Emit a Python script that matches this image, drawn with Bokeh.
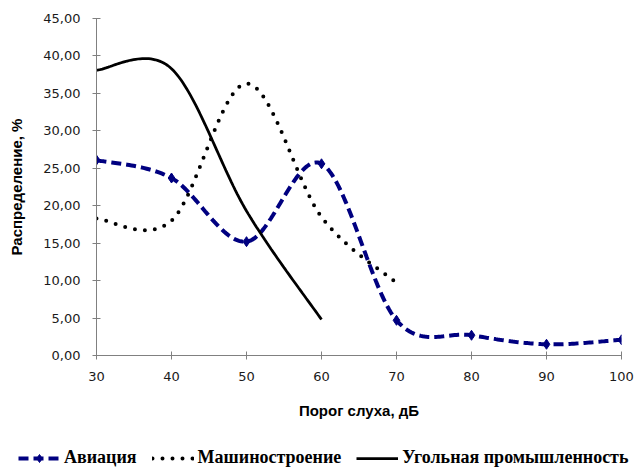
import numpy as np
from bokeh.plotting import figure
from bokeh.layouts import column
from bokeh.models import Legend, LegendItem, FixedTicker, Range1d
from bokeh.embed import file_html
from bokeh.resources import INLINE

# ---- data ----
x_aviation = [30, 40, 50, 60, 70, 80, 90, 100]
y_aviation = [26.1, 23.7, 15.2, 25.6, 4.7, 2.7, 1.5, 2.1]
x_machine = [30, 40, 50, 60, 70]
y_machine = [18.3, 18.0, 36.3, 18.5, 9.7]
x_coal = [30, 40, 50, 60]
y_coal = [38.1, 38.3, 19.3, 4.8]

x_ticks = [30, 40, 50, 60, 70, 80, 90, 100]
x_tick_labels = ["30", "40", "50", "60", "70", "80", "90", "100"]
y_ticks = [0, 5, 10, 15, 20, 25, 30, 35, 40, 45]
y_tick_labels = ["0,00", "5,00", "10,00", "15,00", "20,00", "25,00",
                 "30,00", "35,00", "40,00", "45,00"]
series_names = ["Авиация", "Машиностроение", "Угольная промышленность"]
x_title = "Порог слуха, дБ"
y_title = "Распределение, %"


def smooth(xs, ys, n=40):
    """Excel-like smoothed line (Catmull-Rom Bezier through the points)."""
    P = np.column_stack([xs, ys]).astype(float)
    m = len(P)
    t = np.linspace(0, 1, n + 1)[1:][:, None]
    pts = [P[0]]
    for i in range(m - 1):
        p0 = P[max(i - 1, 0)]
        p1 = P[i]
        p2 = P[i + 1]
        p3 = P[min(i + 2, m - 1)]
        c1 = p1 + (p2 - p0) / 6.0
        c2 = p2 - (p3 - p1) / 6.0
        b = ((1 - t) ** 3) * p1 + 3 * ((1 - t) ** 2) * t * c1 + 3 * (1 - t) * t ** 2 * c2 + t ** 3 * p2
        pts.extend(b)
    pts = np.array(pts)
    return pts[:, 0], pts[:, 1]


NAVY = "#000080"
AV_STYLE = dict(line_color=NAVY, line_width=4, line_dash="10 5")
AV_MARK = dict(marker="diamond", size=10, fill_color=NAVY, line_color=NAVY)
MA_STYLE = dict(line_color="black", line_width=4, line_dash="0 10", line_cap="round")
CO_STYLE = dict(line_color="black", line_width=2.75)

p = figure(width=636, height=444, x_range=Range1d(30, 100), y_range=Range1d(0, 45),
           output_backend="svg", toolbar_location=None,
           min_border_left=96, min_border_right=15, min_border_top=18, min_border_bottom=89)
p.outline_line_color = None
p.xgrid.visible = False
p.ygrid.visible = False

ax, ay = smooth(x_aviation, y_aviation)
mx, my = smooth(x_machine, y_machine)
cx, cy = smooth(x_coal, y_coal)

p.line(ax, ay, **AV_STYLE)
p.scatter(x_aviation, y_aviation, **AV_MARK)
p.line(mx, my, **MA_STYLE)
p.line(cx, cy, **CO_STYLE)

for a in (p.xaxis[0], p.yaxis[0]):
    a.axis_line_color = "#808080"
    a.major_tick_line_color = "#808080"
    a.minor_tick_line_color = None
    a.major_tick_in = 4
    a.major_tick_out = 4
    a.major_label_text_font = "DejaVu Sans"
    a.major_label_text_font_size = "13px"
    a.major_label_text_color = "#1a1a1a"
    a.axis_label_text_font = "Liberation Sans"
    a.axis_label_text_font_style = "bold"
    a.axis_label_text_font_size = "15px"
    a.axis_label_text_color = "black"

p.xaxis.ticker = FixedTicker(ticks=x_ticks)
p.xaxis.major_label_overrides = {t: l for t, l in zip(x_ticks, x_tick_labels)}
p.yaxis.ticker = FixedTicker(ticks=y_ticks)
p.yaxis.major_label_overrides = {t: l for t, l in zip(y_ticks, y_tick_labels)}
p.xaxis.axis_label = x_title
p.yaxis.axis_label = y_title
p.xaxis.major_label_standoff = 12
p.xaxis.axis_label_standoff = 18
p.yaxis.major_label_standoff = 12
p.yaxis.axis_label_standoff = 15

# legend strip under the chart: same series, drawn outside its (0..1) view
lg = figure(width=636, height=24, x_range=Range1d(0, 1), y_range=Range1d(0, 1),
            output_backend="svg", toolbar_location=None,
            x_axis_type=None, y_axis_type=None,
            min_border_left=0, min_border_right=0, min_border_top=0, min_border_bottom=0)
lg.outline_line_color = None
lg.xgrid.visible = False
lg.ygrid.visible = False
l_av = lg.line(x_aviation, y_aviation, **AV_STYLE)
l_av_m = lg.scatter(x_aviation, y_aviation, **AV_MARK)
l_ma = lg.line(x_machine, y_machine, **MA_STYLE)
l_co = lg.line(x_coal, y_coal, **CO_STYLE)

legend = Legend(items=[
    LegendItem(label=series_names[0], renderers=[l_av, l_av_m]),
    LegendItem(label=series_names[1], renderers=[l_ma]),
    LegendItem(label=series_names[2], renderers=[l_co]),
], orientation="horizontal", location=(18, 0))
legend.border_line_color = None
legend.background_fill_alpha = 0
legend.padding = 0
legend.margin = 0
legend.spacing = 15
legend.glyph_width = 42
legend.glyph_height = 20
legend.label_height = 20
legend.label_standoff = 4
legend.label_text_font = "Liberation Serif"
legend.label_text_font_style = "bold"
legend.label_text_font_size = "18px"
legend.label_text_color = "black"
lg.add_layout(legend, "center")

layout = column(p, column(lg, spacing=0), spacing=0)
open("out.html", "w").write(file_html(layout, INLINE))
